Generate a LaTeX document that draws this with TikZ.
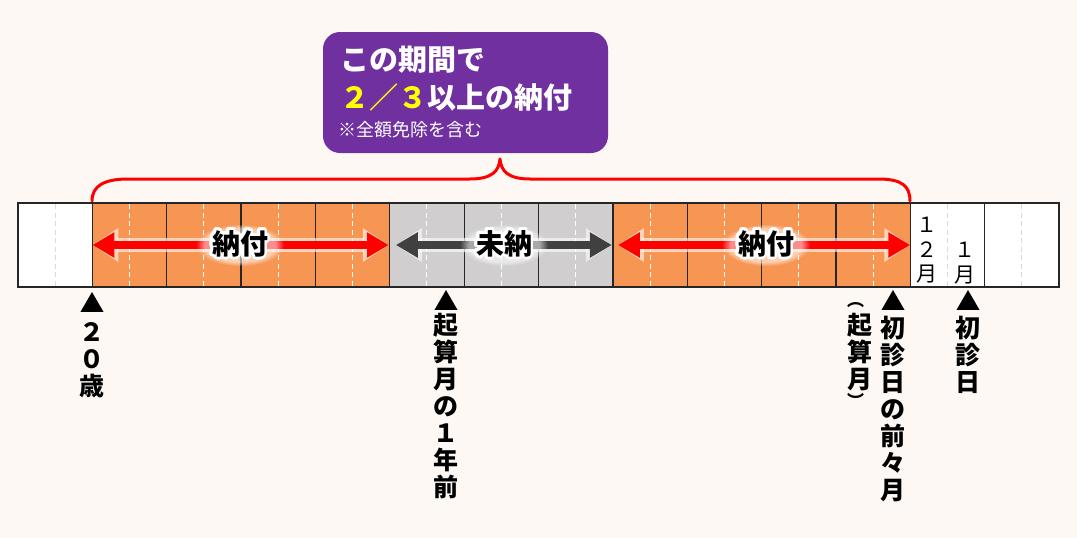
\documentclass[tikz,border=0pt]{standalone}
\usepackage{fontspec}
\usepackage{contour}
\newfontfamily\jp{Noto Sans CJK JP}
\usetikzlibrary{arrows.meta,shapes.geometric,fadings}
\definecolor{bg}{HTML}{FDF8F4}
\definecolor{org}{HTML}{F79552}
\definecolor{gry}{HTML}{D0CECE}
\definecolor{lgry}{HTML}{DADADA}
\definecolor{purp}{HTML}{7030A0}
\definecolor{darkarrow}{HTML}{404040}
\definecolor{edge}{HTML}{262626}
\definecolor{yel}{HTML}{FFFF00}
\contourlength{2.8pt}
\contournumber{32}
\tikzset{
  tipT/.tip={Triangle[length=22pt,width=24pt]},
  glowT/.tip={Triangle[length=26pt,width=32pt]},
}
\begin{document}
\begin{tikzpicture}[x=1pt,y=-1pt,
  cell/.style={draw=edge, line width=1.3pt, minimum width=74.36pt, minimum height=84pt, inner sep=0pt, outer sep=0pt},
  midline/.style={dash pattern=on 5pt off 3.5pt, line width=1pt},
  spanarrow/.style={line width=8pt, tipT-tipT,
     preaction={draw=white, opacity=0.6, line width=14pt, glowT-glowT}},
  lbl/.style={font=\jp\bfseries\fontsize{28}{28}\selectfont, inner sep=0pt, text=black},
  glow/.style={fill=white, fill opacity=0.55, path fading=circle with fuzzy edge 20 percent},
  tri/.style={regular polygon, regular polygon sides=3, minimum size=26.6pt, fill=black, inner sep=0pt, outer sep=0pt},
  vtext/.style={font=\jp\bfseries\fontsize{25}{27}\selectfont, align=center, inner sep=0pt, anchor=north},
  ptext/.style={font=\jp\bfseries\fontsize{17}{17}\selectfont, inner sep=0pt},
  ctext/.style={font=\jp\fontsize{21}{24.5}\selectfont, align=center, inner sep=0pt, anchor=north},
  callout/.style={fill=purp, rounded corners=17pt, minimum width=285pt, minimum height=121pt, inner sep=0pt},
  brace/.style={draw=red, line width=3pt, line cap=round, line join=round},
]
\fill[bg] (0,0) rectangle (1077,538);
\useasboundingbox (0,0) rectangle (1077,538);

% cells of the bar
\foreach \i/\f/\d in {0/white/lgry,1/org/white,2/org/white,3/org/white,4/org/white,
  5/gry/white,6/gry/white,7/gry/white,8/org/white,9/org/white,10/org/white,11/org/white,
  12/white/lgry,13/white/lgry}{
  \pgfmathsetmacro\xm{18+74.36*\i+37.18}
  \node[cell, fill=\f] (c\i) at (\xm,245) {};
  \draw[midline, draw=\d] ([yshift=-1pt]c\i.north) -- ([yshift=1pt]c\i.south);
}

% brace
\coordinate (bl) at (92,201);
\coordinate (bt) at (500,159);
\coordinate (br) at (910,201);
\draw[brace] (bl) .. controls (92,186) and (104,179) .. (128,179) -- (470,179)
  .. controls (492,179) and (499,171) .. (bt)
  .. controls (501,171) and (508,179) .. (530,179) -- (878,179)
  .. controls (902,179) and (910,186) .. (br);

% callout
\node[callout] (box) at (465.5,92.5) {};
\node[anchor=west, inner sep=0pt, text=white, font=\jp\bfseries\fontsize{29}{29}\selectfont] (r1) at (340,60) {この期間で};
\node[anchor=west, inner sep=0pt, text=white, font=\jp\bfseries\fontsize{29}{29}\selectfont] (r2) at (340,97) {\textcolor{yel}{２／３}以上の納付};
\node[anchor=west, inner sep=0pt, text=white, font=\jp\fontsize{18}{18}\selectfont] (r3) at (338,130) {※全額免除を含む};

% span arrows
\draw[spanarrow, red] (c1.west) -- ([xshift=-1pt]c4.east);
\draw[spanarrow, darkarrow] ([xshift=6pt]c5.west) -- ([xshift=-1pt]c7.east);
\draw[spanarrow, red] ([xshift=5pt]c8.west) -- (c11.east);
\foreach \x in {240,504,766}{
  \fill[glow] (\x-44,224) rectangle (\x+44,266);
}
\node[lbl] (n1) at (240,245) {\contour{white}{納付}};
\node[lbl] (n2) at (504,245) {\contour{white}{未納}};
\node[lbl] (n3) at (766,245) {\contour{white}{納付}};

% month labels in cell 12
\node[ctext] (m12) at (927,217) {１\\２\\月};
\node[ctext] (m1) at (965,242) {１\\月};

% markers
\node[tri] (t1) at (92,305.3) {};
\node[tri] (t2) at (446,303.3) {};
\node[tri] (t3) at (893,303.3) {};
\node[tri] (t4) at (968,303.3) {};

\node[vtext] (v1) at (92,322) {２\\０\\歳};
\node[vtext] (v2) at (446,313) {起\\算\\月\\の\\１\\年\\前};
\node[vtext] (v3) at (893,316) {初\\診\\日\\の\\前\\々\\月};
\node[vtext] (v4) at (968,316) {初\\診\\日};
\node[vtext] (v5) at (860,313) {起\\算\\月};
\node[ptext] (p1) at (855.5,305) {︵};
\node[ptext] (p2) at (855.5,400) {︶};
\end{tikzpicture}
\end{document}
